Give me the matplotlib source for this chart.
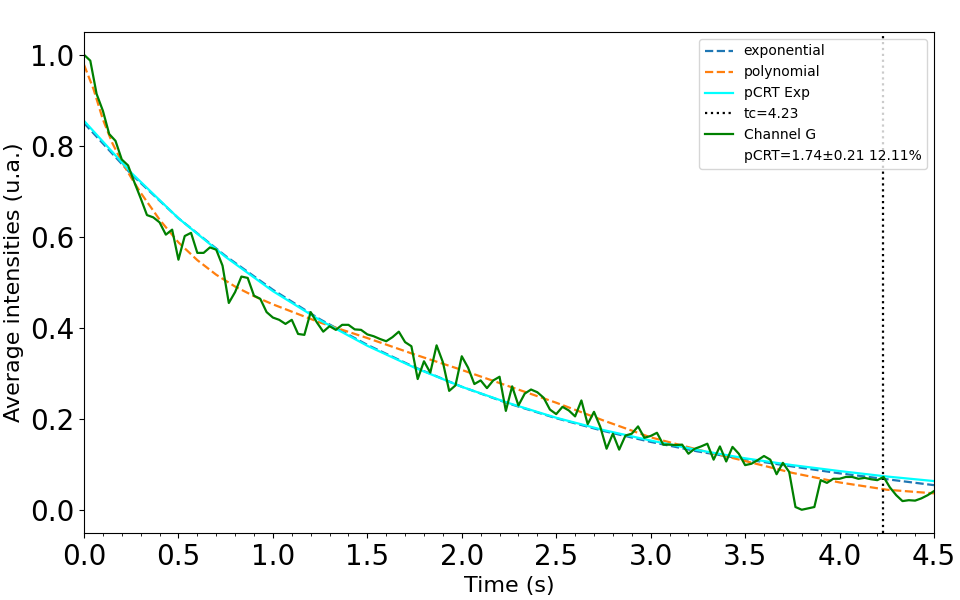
import numpy as np
import matplotlib
matplotlib.use("Agg")
import matplotlib.pyplot as plt
from matplotlib.ticker import MultipleLocator

# Channel G samples (30 fps)
fps = 30
channel_g = [
    1.000, 0.987, 0.914, 0.877, 0.826, 0.811, 0.770, 0.757, 0.720, 0.685,
    0.648, 0.643, 0.632, 0.605, 0.616, 0.550, 0.602, 0.609, 0.565, 0.565,
    0.577, 0.572, 0.537, 0.455, 0.479, 0.513, 0.510, 0.471, 0.464, 0.435,
    0.423, 0.418, 0.409, 0.418, 0.387, 0.385, 0.435, 0.412, 0.392, 0.404,
    0.396, 0.407, 0.407, 0.397, 0.396, 0.386, 0.382, 0.376, 0.371, 0.380,
    0.392, 0.369, 0.360, 0.288, 0.327, 0.302, 0.362, 0.325, 0.262, 0.274,
    0.338, 0.313, 0.277, 0.285, 0.268, 0.285, 0.293, 0.218, 0.272, 0.230,
    0.256, 0.265, 0.259, 0.247, 0.221, 0.211, 0.227, 0.219, 0.206, 0.241,
    0.189, 0.216, 0.183, 0.135, 0.168, 0.133, 0.164, 0.168, 0.184, 0.159,
    0.163, 0.170, 0.144, 0.144, 0.143, 0.144, 0.124, 0.135, 0.140, 0.146,
    0.111, 0.140, 0.107, 0.139, 0.124, 0.099, 0.102, 0.110, 0.119, 0.111,
    0.079, 0.104, 0.084, 0.007, 0.001, 0.004, 0.007, 0.066, 0.060, 0.069,
    0.069, 0.073, 0.073, 0.069, 0.071, 0.068, 0.066, 0.073, 0.050, 0.033,
    0.020, 0.022, 0.021, 0.026, 0.033, 0.042,
]
time_g = [i / fps for i in range(len(channel_g))]

# Fitted curves
fit_time = [0.0, 0.25, 0.5, 0.75, 1.0, 1.25, 1.5, 1.75, 2.0, 2.25, 2.5,
            2.75, 3.0, 3.25, 3.5, 3.75, 4.0, 4.25, 4.5]
exponential = [0.850, 0.738, 0.641, 0.558, 0.484, 0.419, 0.363, 0.314, 0.271,
               0.234, 0.202, 0.174, 0.150, 0.129, 0.112, 0.096, 0.081, 0.068, 0.055]
pcrt_exp = [0.855, 0.741, 0.641, 0.556, 0.481, 0.417, 0.361, 0.313, 0.271,
            0.235, 0.203, 0.176, 0.153, 0.132, 0.114, 0.099, 0.086, 0.074, 0.064]

poly_time = [0.0, 0.05, 0.1, 0.15, 0.2, 0.25, 0.3, 0.4, 0.5, 0.6, 0.7, 0.8,
             0.9, 1.0, 1.1, 1.25, 1.5, 1.75, 2.0, 2.25, 2.5, 2.75, 3.0, 3.25,
             3.5, 3.75, 4.0, 4.25, 4.5]
polynomial = [0.978, 0.925, 0.858, 0.806, 0.765, 0.730, 0.697, 0.638, 0.588,
              0.549, 0.517, 0.491, 0.470, 0.452, 0.436, 0.412, 0.378, 0.342,
              0.308, 0.272, 0.236, 0.197, 0.160, 0.133, 0.108, 0.082, 0.061,
              0.045, 0.037]

tc = 4.23
pcrt_label = "pCRT=1.74\u00b10.21 12.11%"

fig = plt.figure(figsize=(9.6, 6.0), dpi=100)
ax = fig.add_axes([0.0875, 0.1117, 0.8854, 0.835])

ax.plot(fit_time, exponential, "--", color="tab:blue", lw=1.6, label="exponential")
ax.plot(poly_time, polynomial, "--", color="tab:orange", lw=1.6, label="polynomial")
ax.plot(fit_time, pcrt_exp, "-", color="cyan", lw=1.6, label="pCRT Exp")
ax.axvline(tc, color="black", ls=":", lw=1.6, label=f"tc={tc}")
ax.plot(time_g, channel_g, "-", color="green", lw=1.6, label="Channel G")
ax.plot([], [], " ", label=pcrt_label)

ax.set_xlim(0, 4.5)
ax.set_ylim(-0.05, 1.05)
ax.xaxis.set_major_locator(MultipleLocator(0.5))
ax.xaxis.set_minor_locator(MultipleLocator(0.1))
ax.yaxis.set_major_locator(MultipleLocator(0.2))
ax.tick_params(axis="both", which="major", labelsize=20)
ax.set_xlabel("Time (s)", fontsize=16)
ax.set_ylabel("Average intensities (u.a.)", fontsize=16)
ax.legend(loc="upper right", fontsize=10)

fig.savefig("out.png", dpi=100)
